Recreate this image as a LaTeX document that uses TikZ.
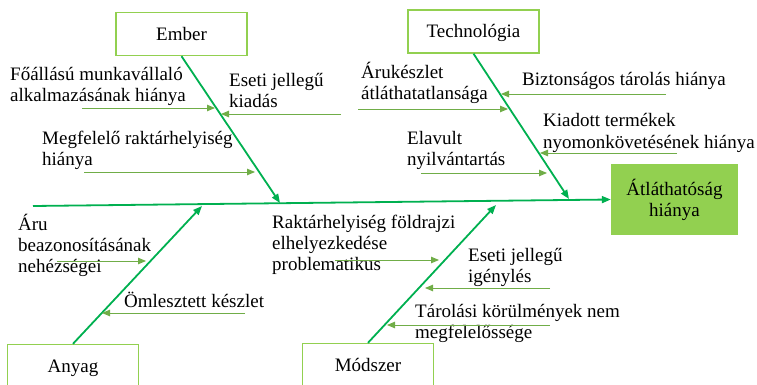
\documentclass[tikz,border=0pt]{standalone}
\usepackage{fontspec}
\setmainfont{Liberation Serif}
\usetikzlibrary{arrows.meta}
\definecolor{boneMain}{HTML}{00B050}
\definecolor{boneSub}{HTML}{70AD47}
\definecolor{boxEdge}{HTML}{92D050}
\definecolor{effectFill}{HTML}{92D050}

\begin{document}
\begin{tikzpicture}[
  x=1pt, y=-1pt,
  font=\fontsize{19}{21}\selectfont,
  cause/.style={
    draw=boxEdge, line width=1.4pt, fill=white,
    minimum width=131pt, minimum height=43pt,
    text height=13pt, text depth=0pt, inner sep=0pt
  },
  effect/.style={fill=effectFill, minimum width=127pt, minimum height=71pt,
                 align=center, inner sep=0pt},
  bone/.style={-{Triangle[length=9pt,width=7pt]}, line width=1.8pt, draw=boneMain},
  rib/.style={-{Triangle[length=8pt,width=6.5pt]}, line width=0.9pt, draw=boneSub},
  lbl/.style={anchor=base west, align=left, inner sep=0pt}
]
\useasboundingbox (0,0) rectangle (757,385);
\clip (0,0) rectangle (757,385);

% Cause categories and effect
\node[cause] (ember) at (181.5,34) {Ember};
\node[cause] (tech) at (473.5,31.5) {Technológia};
\node[cause] (anyag) at (73,366) {Anyag};
\node[cause] (modszer) at (368,365) {Módszer};
\node[effect] (effect) at (674.5,199.5) {Átláthatóság\\hiánya};

% Spine and main bones
\coordinate (spineTail) at (33,206);
\coordinate (emberHead) at (280,203);
\coordinate (techHead) at (569,199);
\coordinate (anyagHead) at (202,206);
\coordinate (modszerHead) at (496,205);
\draw[bone] (spineTail) -- (effect.west);
\draw[bone] (ember.south) -- (emberHead);
\draw[bone] (tech.south) -- (techHead);
\draw[bone] (anyag.north) -- (anyagHead);
\draw[bone] (modszer.north) -- (modszerHead);

% Ember (label anchors sit on the last line)
\node[lbl] (fullTime) at (10,102) {Főállású munkavállaló\\alkalmazásának hiánya};
\node[lbl] (adhocOut) at (229,108) {Eseti jellegű\\kiadás};
\node[lbl] (storeRoom) at (42,165) {Megfelelő raktárhelyiség\\hiánya};
\coordinate (r1a) at (82,108);  \coordinate (r1b) at (215,108);
\coordinate (r2a) at (341,114); \coordinate (r2b) at (221,114);
\coordinate (r3a) at (84,172);  \coordinate (r3b) at (255,172);
\draw[rib] (r1a) -- (r1b);
\draw[rib] (r2a) -- (r2b);
\draw[rib] (r3a) -- (r3b);

% Technologia
\node[lbl] (stockView) at (361,100) {Árukészlet\\átláthatatlansága};
\node[lbl] (safeStore) at (522,86) {Biztonságos tárolás hiánya};
\node[lbl] (tracking) at (543,148) {Kiadott termékek\\nyomonkövetésének hiánya};
\node[lbl] (oldRecord) at (407,165) {Elavult\\nyilvántartás};
\coordinate (r4a) at (358,109); \coordinate (r4b) at (508,109);
\coordinate (r5a) at (666,94);  \coordinate (r5b) at (501,94);
\coordinate (r6a) at (677,153); \coordinate (r6b) at (540,153);
\coordinate (r7a) at (421,173); \coordinate (r7b) at (547,173);
\draw[rib] (r4a) -- (r4b);
\draw[rib] (r5a) -- (r5b);
\draw[rib] (r6a) -- (r6b);
\draw[rib] (r7a) -- (r7b);

% Anyag
\node[lbl] (itemId) at (18,272) {Áru\\beazonosításának\\nehézségei};
\node[lbl] (bulkStock) at (124,307) {Ömlesztett készlet};
\coordinate (r8a) at (57,261);  \coordinate (r8b) at (146,261);
\coordinate (r9a) at (245,313); \coordinate (r9b) at (102,313);
\draw[rib] (r8a) -- (r8b);
\draw[rib] (r9a) -- (r9b);

% Modszer
\node[lbl] (location) at (272,270) {Raktárhelyiség földrajzi\\elhelyezkedése\\problematikus};
\node[lbl] (adhocReq) at (468,282) {Eseti jellegű\\igénylés};
\node[lbl] (conditions) at (415,338) {Tárolási körülmények nem\\megfelelőssége};
\coordinate (r10a) at (335,260); \coordinate (r10b) at (439,260);
\coordinate (r11a) at (550,288); \coordinate (r11b) at (425,288);
\coordinate (r12a) at (550,325); \coordinate (r12b) at (387,325);
\draw[rib] (r10a) -- (r10b);
\draw[rib] (r11a) -- (r11b);
\draw[rib] (r12a) -- (r12b);

\end{tikzpicture}
\end{document}
